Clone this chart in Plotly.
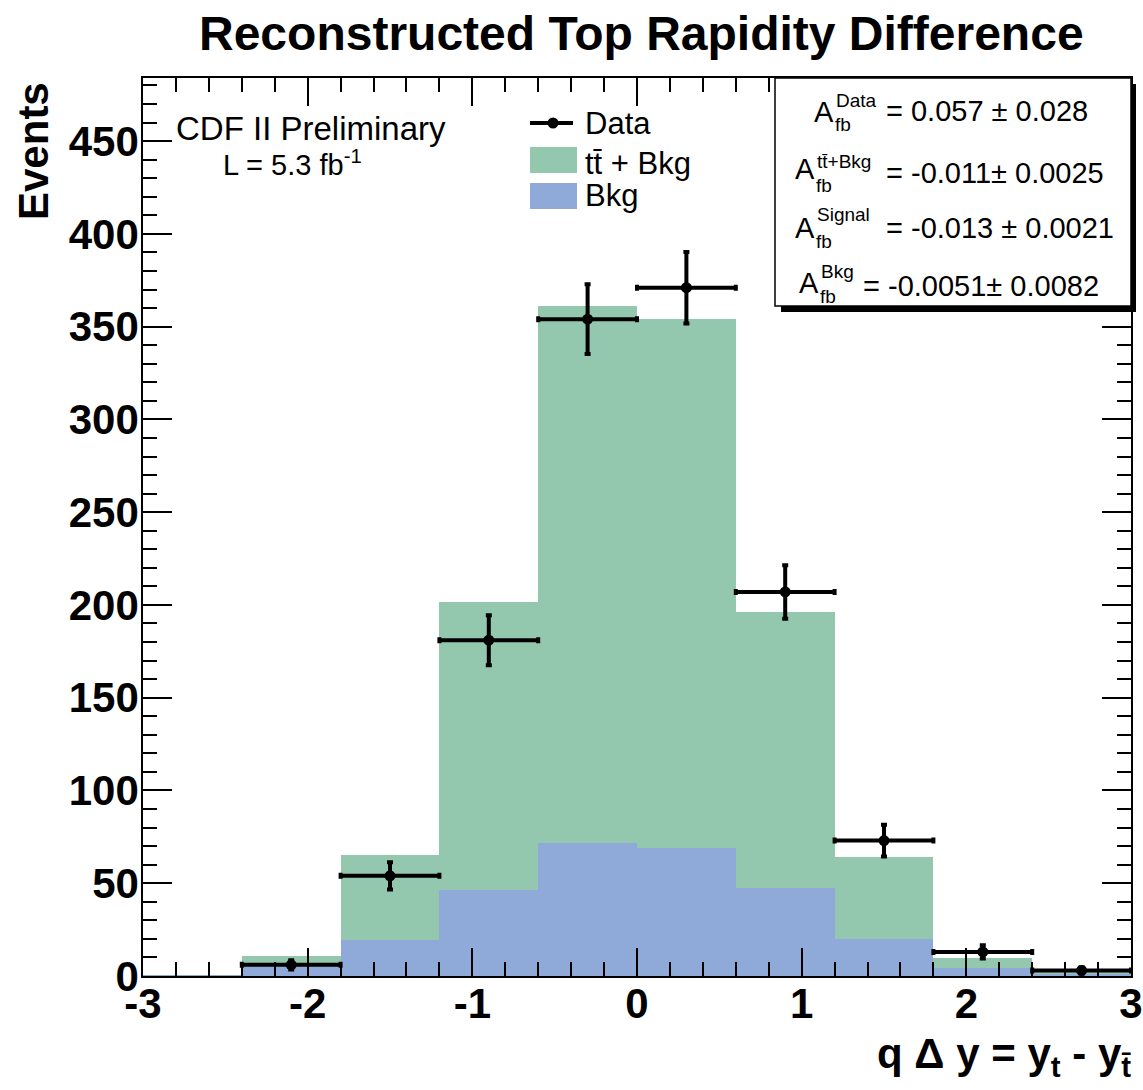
import numpy as np
import plotly.graph_objects as go

# ---- data ----
bin_edges = [-3.0, -2.4, -1.8, -1.2, -0.6, 0.0, 0.6, 1.2, 1.8, 2.4, 3.0]
bin_centers = [-2.7, -2.1, -1.5, -0.9, -0.3, 0.3, 0.9, 1.5, 2.1, 2.7]
ttbar_plus_bkg = [0.5, 10.8, 65.3, 201.5, 361.0, 354.0, 196.0, 64.0, 9.7, 2.0]
bkg = [0.5, 5.4, 19.5, 46.4, 71.7, 69.0, 47.5, 20.0, 4.5, 1.0]
data_x = [-2.1, -1.5, -0.9, -0.3, 0.3, 0.9, 1.5, 2.1, 2.7]
data_y = [6, 54, 181, 354, 371, 207, 73, 13, 3]
data_err = [float(np.sqrt(v)) for v in data_y]

x_ticks = [-3, -2, -1, 0, 1, 2, 3]
y_ticks = [0, 50, 100, 150, 200, 250, 300, 350, 400, 450]

stats_labels = ["Data", "tt\u0304+Bkg", "Signal", "Bkg"]
stats_values = ["= 0.057 \u00b1 0.028", "= -0.011\u00b1 0.0025",
                "= -0.013 \u00b1 0.0021", "= -0.0051\u00b1 0.0082"]

GREEN = "#93c8af"
BLUE = "#8fa9d8"
FONT = "Liberation Sans, Arial, Helvetica, sans-serif"

W, H = 1143, 1090
L, R, T, B = 143, 1131, 78, 976


def px(X):
    return (X - L) / (R - L)


def py(Y):
    return (B - Y) / (B - T)


fig = go.Figure()
fig.add_trace(go.Bar(x=bin_centers, y=ttbar_plus_bkg, width=0.6,
                     marker=dict(color=GREEN, line=dict(width=0)),
                     name="tt\u0304 + Bkg", showlegend=False))
fig.add_trace(go.Bar(x=bin_centers, y=bkg, width=0.6,
                     marker=dict(color=BLUE, line=dict(width=0)),
                     name="Bkg", showlegend=False))
fig.add_trace(go.Scatter(
    x=data_x, y=data_y, mode="markers", name="Data", showlegend=False,
    marker=dict(color="black", size=11, symbol="circle"),
    error_x=dict(type="constant", value=0.3, thickness=4, width=3, color="black"),
    error_y=dict(type="data", array=data_err, thickness=4, width=3, color="black"),
))

axis_common = dict(
    showline=True, linecolor="black", linewidth=1.5, mirror="ticks",
    ticks="inside", tickcolor="black", tickwidth=1.5,
    showgrid=False, zeroline=False, automargin=False,
    tickfont=dict(family=FONT, size=42, color="black", weight="bold"),
)
fig.update_xaxes(range=[-3, 3], tickvals=x_ticks, ticktext=[str(v) for v in x_ticks],
                 ticklen=28, ticklabelstandoff=-10,
                 minor=dict(dtick=0.2, tick0=-3, ticklen=14, ticks="inside",
                            tickcolor="black", tickwidth=1.5, showgrid=False),
                 **axis_common)
fig.update_yaxes(range=[0, 484], tickvals=y_ticks, ticktext=[str(v) for v in y_ticks],
                 ticklen=29, ticklabelstandoff=-6,
                 minor=dict(dtick=10, tick0=0, ticklen=14, ticks="inside",
                            tickcolor="black", tickwidth=1.5, showgrid=False),
                 **axis_common)

shapes = []
ann = []

# title
ann.append(dict(text="<b>Reconstructed Top Rapidity Difference</b>", xref="paper", yref="paper",
                x=px(641), y=py(34), xanchor="center", yanchor="middle", showarrow=False,
                font=dict(family=FONT, size=48, color="black")))
# axis titles
ann.append(dict(text="<b>Events</b>", xref="paper", yref="paper", x=px(34), y=py(80),
                xanchor="center", yanchor="top", textangle=-90, showarrow=False,
                font=dict(family=FONT, size=42, color="black")))
ann.append(dict(text="<b>q \u0394 y = y<sub>t</sub> - y<sub>t\u0304</sub></b>", xref="paper", yref="paper",
                x=px(1133), y=py(1056), xanchor="right", yanchor="middle", showarrow=False,
                font=dict(family=FONT, size=42, color="black")))

# CDF label
ann.append(dict(text="CDF II Preliminary", xref="paper", yref="paper", x=px(174), y=py(128),
                xanchor="left", yanchor="middle", showarrow=False,
                font=dict(family=FONT, size=33, color="black")))
ann.append(dict(text="L = 5.3 fb<sup>-1</sup>", xref="paper", yref="paper", x=px(221), y=py(163),
                xanchor="left", yanchor="middle", showarrow=False,
                font=dict(family=FONT, size=29, color="black")))

# legend (manual)
shapes.append(dict(type="line", xref="paper", yref="paper", x0=px(530), x1=px(573),
                   y0=py(123), y1=py(123), line=dict(color="black", width=4)))
shapes.append(dict(type="circle", xref="paper", yref="paper", x0=px(547.5), x1=px(558.5),
                   y0=py(117.5), y1=py(128.5), fillcolor="black", line=dict(color="black", width=0)))
shapes.append(dict(type="rect", xref="paper", yref="paper", x0=px(530), x1=px(577),
                   y0=py(147), y1=py(173), fillcolor=GREEN, line=dict(width=0)))
shapes.append(dict(type="rect", xref="paper", yref="paper", x0=px(530), x1=px(577),
                   y0=py(183), y1=py(209), fillcolor=BLUE, line=dict(width=0)))
for txt, yy in [("Data", 123), ("tt\u0304 + Bkg", 163), ("Bkg", 195)]:
    ann.append(dict(text=txt, xref="paper", yref="paper", x=px(583), y=py(yy),
                    xanchor="left", yanchor="middle", showarrow=False,
                    font=dict(family=FONT, size=31, color="black")))

# stats box with shadow
shapes.append(dict(type="rect", xref="paper", yref="paper", x0=px(781), x1=px(1136),
                   y0=py(84), y1=py(312), fillcolor="black", line=dict(width=0)))
shapes.append(dict(type="rect", xref="paper", yref="paper", x0=px(775), x1=px(1131),
                   y0=py(78), y1=py(306), fillcolor="white", line=dict(color="black", width=1.5)))

stats_rows = [
    # A_x, A_y, sup_y, sub_y, val_x, val_y
    (812, 112, 100, 125, 884, 111),
    (793, 169, 161, 185, 884, 173),
    (793, 228, 215, 241, 884, 228),
    (797, 283, 271, 296, 861, 286),
]
for (ax, ay, sy, suby, vx, vy), lab, val in zip(stats_rows, stats_labels, stats_values):
    ann.append(dict(text="A", xref="paper", yref="paper", x=px(ax), y=py(ay),
                    xanchor="left", yanchor="middle", showarrow=False,
                    font=dict(family=FONT, size=29, color="black")))
    ann.append(dict(text=lab, xref="paper", yref="paper", x=px(ax + 22), y=py(sy),
                    xanchor="left", yanchor="middle", showarrow=False,
                    font=dict(family=FONT, size=19, color="black")))
    ann.append(dict(text="fb", xref="paper", yref="paper", x=px(ax + 21), y=py(suby),
                    xanchor="left", yanchor="middle", showarrow=False,
                    font=dict(family=FONT, size=19, color="black")))
    ann.append(dict(text=val, xref="paper", yref="paper", x=px(vx), y=py(vy),
                    xanchor="left", yanchor="middle", showarrow=False,
                    font=dict(family=FONT, size=29, color="black")))

fig.update_layout(
    width=W, height=H, barmode="overlay", bargap=0,
    margin=dict(l=L, r=W - R, t=T, b=H - B, pad=0, autoexpand=False),
    plot_bgcolor="white", paper_bgcolor="white",
    shapes=shapes, annotations=ann, showlegend=False,
    font=dict(family=FONT, color="black"),
)

fig.write_html("out.html", config={"displayModeBar": False},
               post_script="document.body.style.margin='0';document.body.style.overflow='hidden';")
